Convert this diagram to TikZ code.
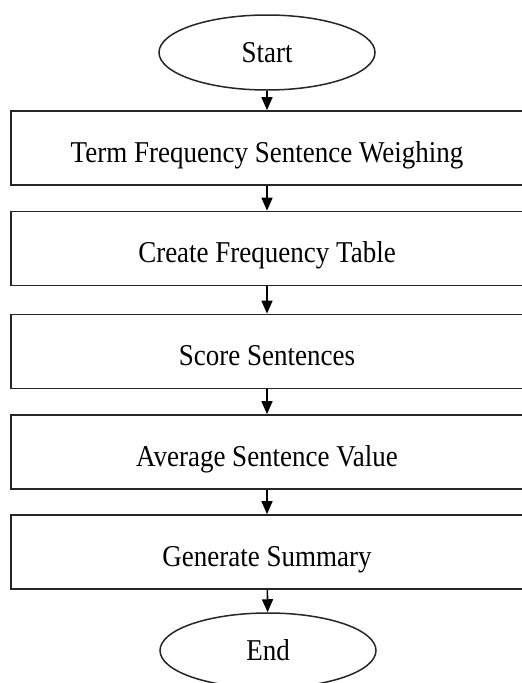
\documentclass[tikz,border=0pt]{standalone}
\usepackage{fontspec}
\setmainfont{Liberation Serif}
\usetikzlibrary{shapes.geometric,arrows.meta}
\begin{document}
\begin{tikzpicture}[x=1pt,y=-1pt,
  stepbox/.style={draw=black!85,line width=1.7pt,minimum width=512pt,minimum height=74pt,inner sep=0pt,text height=28pt,text depth=0pt,font=\fontsize{27}{30}\selectfont},
  termbox/.style={ellipse,draw=black!85,line width=1.5pt,minimum width=216pt,minimum height=75pt,inner sep=0pt,text height=20pt,text depth=0pt,font=\fontsize{27}{30}\selectfont},
  flow/.style={draw=black,line width=1.6pt,-{Triangle[length=13pt,width=11pt]}}]
\clip (0,0) rectangle (522,683);
\fill[white] (0,0) rectangle (522,683);
\node[termbox] (start) at (267,52.5) {\scalebox{1}[1.12]{Start}};
\node[stepbox] (b1) at (267,148) {\scalebox{1}[1.12]{Term Frequency Sentence Weighing}};
\node[stepbox] (b2) at (267,248.5) {\scalebox{1}[1.12]{Create Frequency Table}};
\node[stepbox] (b3) at (267,351.5) {\scalebox{1}[1.12]{Score Sentences}};
\node[stepbox] (b4) at (267,452) {\scalebox{1}[1.12]{Average Sentence Value}};
\node[stepbox] (b5) at (267,552) {\scalebox{1}[1.12]{Generate Summary}};
\node[termbox] (end) at (268,650.5) {\scalebox{1}[1.12]{End}};
\draw[flow] (start) -- (b1);
\draw[flow] (b1) -- (b2);
\draw[flow] (b2) -- (b3);
\draw[flow] (b3) -- (b4);
\draw[flow] (b4) -- (b5);
\draw[flow] (b5) -- (end);
\end{tikzpicture}
\end{document}
